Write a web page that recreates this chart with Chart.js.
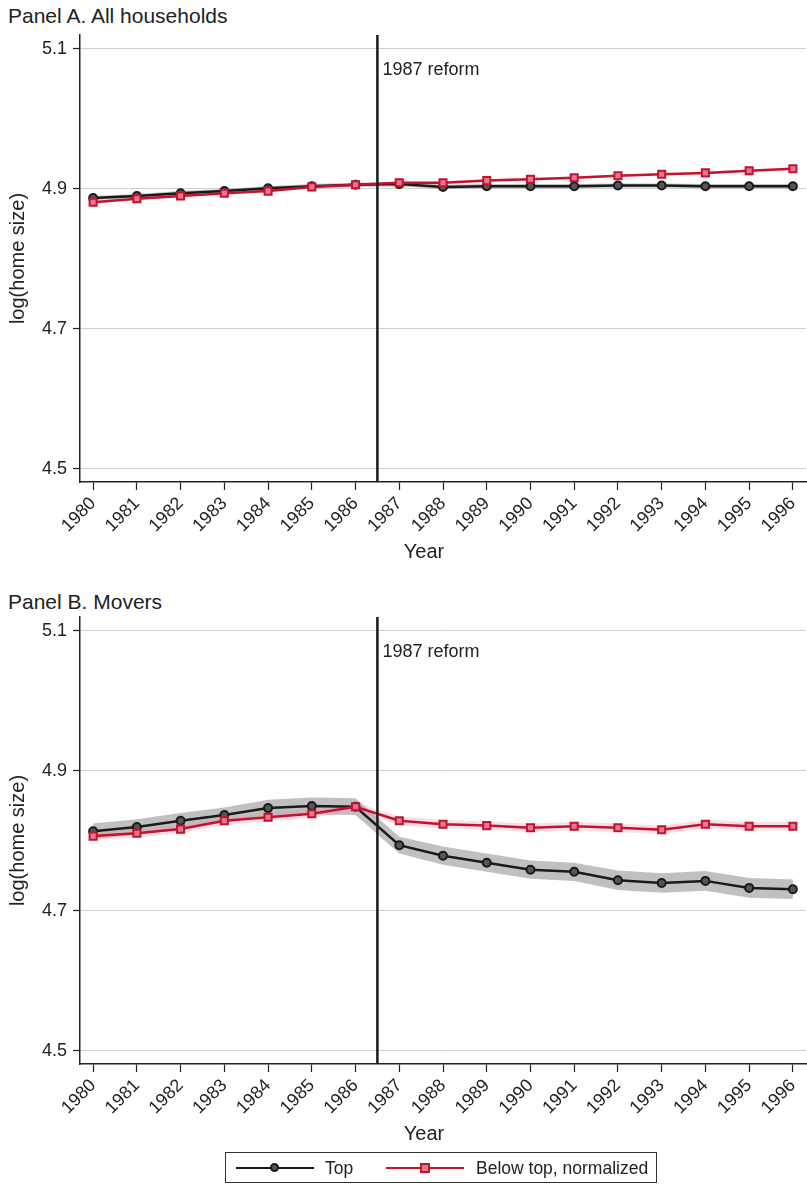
<!DOCTYPE html>
<html>
<head>
<meta charset="utf-8">
<script src="https://cdn.jsdelivr.net/npm/chart.js@4"></script>
<style>
  body { margin: 0; background: #fff; font-family: "Liberation Sans", Arial, sans-serif; color: #222; }
  #page { position: relative; width: 807px; height: 1184px; }
  .panelTitle { position: absolute; left: 8px; font-size: 21px; line-height: 24px; }
  .wrap { position: absolute; left: 0; width: 807px; height: 580px; }
  #legend { position: absolute; left: 225px; top: 1152px; width: 432px; height: 31px; border: 1px solid #333; box-sizing: border-box; font-size: 17.5px; }
  .lg-line { position: absolute; top: 14px; width: 78px; height: 2px; }
  .lg-text { position: absolute; top: 5px; }
  .lg-dot { position: absolute; top: 10px; width: 5px; height: 5px; border: 2px solid #1a1a1a; border-radius: 50%; background: #555; }
  .lg-sq { position: absolute; top: 10px; width: 6px; height: 6px; border: 2px solid #c4122f; background: #e07a8c; }
</style>
</head>
<body>
<div id="page">
  <div class="panelTitle" style="top:4px">Panel A. All households</div>
  <div class="wrap" style="top:0px"><canvas id="chartA" width="807" height="580"></canvas></div>
  <div class="panelTitle" style="top:590px">Panel B. Movers</div>
  <div class="wrap" style="top:582px"><canvas id="chartB" width="807" height="580"></canvas></div>
  <div id="legend">
    <div class="lg-line" style="left:10px;background:#1a1a1a"></div>
    <div class="lg-dot" style="left:44px"></div>
    <div class="lg-text" style="left:99px">Top</div>
    <div class="lg-line" style="left:160px;background:#c4122f"></div>
    <div class="lg-sq" style="left:194px"></div>
    <div class="lg-text" style="left:250px">Below top, normalized</div>
  </div>
</div>
<script>
// data
const years = [1980, 1981, 1982, 1983, 1984, 1985, 1986, 1987, 1988, 1989, 1990, 1991, 1992, 1993, 1994, 1995, 1996];
const yTicks = [4.5, 4.7, 4.9, 5.1];

// Panel A: all households
const topA   = [4.887, 4.890, 4.894, 4.897, 4.901, 4.904, 4.906, 4.907, 4.903, 4.904, 4.904, 4.904, 4.905, 4.905, 4.904, 4.904, 4.904];
const belowA = [4.881, 4.886, 4.890, 4.894, 4.897, 4.903, 4.906, 4.909, 4.909, 4.912, 4.914, 4.916, 4.919, 4.921, 4.923, 4.926, 4.929];
const topBandA   = [0.003, 0.003, 0.003, 0.003, 0.003, 0.003, 0.003, 0.003, 0.003, 0.003, 0.003, 0.003, 0.003, 0.003, 0.003, 0.003, 0.003];
const belowBandA = [0.002, 0.002, 0.002, 0.002, 0.002, 0.002, 0.002, 0.002, 0.002, 0.002, 0.002, 0.002, 0.002, 0.002, 0.002, 0.002, 0.002];

// Panel B: movers
const topB   = [4.814, 4.820, 4.829, 4.837, 4.847, 4.850, 4.849, 4.794, 4.779, 4.769, 4.759, 4.756, 4.744, 4.740, 4.743, 4.733, 4.731];
const belowB = [4.807, 4.811, 4.817, 4.829, 4.834, 4.839, 4.849, 4.829, 4.824, 4.822, 4.819, 4.821, 4.819, 4.816, 4.824, 4.821, 4.821];
const topBandB   = [0.011, 0.011, 0.011, 0.011, 0.012, 0.012, 0.012, 0.012, 0.013, 0.013, 0.013, 0.013, 0.014, 0.014, 0.014, 0.014, 0.014];
const belowBandB = [0.006, 0.006, 0.006, 0.006, 0.006, 0.006, 0.006, 0.006, 0.006, 0.006, 0.006, 0.006, 0.006, 0.006, 0.006, 0.006, 0.006];

const reformYear = 1986.5;
const reformLabel = "1987 reform";

const FONT = '"Liberation Sans", Arial, sans-serif';
const RED = '#c4122f';
const BLACK = '#1a1a1a';

function pts(vals, band, sign) {
    return years.map((yr, i) => ({ x: yr, y: vals[i] + sign * band[i] }));
}

// vertical reform line + "Year" title (a bit left of the plot centre, like the original)
const reformLine = {
    id: 'reformLine',
    afterDatasetsDraw(chart) {
        const ctx = chart.ctx;
        const area = chart.chartArea;
        const x = chart.scales.x.getPixelForValue(reformYear);
        ctx.save();
        ctx.strokeStyle = BLACK;
        ctx.lineWidth = 2.5;
        ctx.beginPath();
        ctx.moveTo(x, area.top);
        ctx.lineTo(x, area.bottom);
        ctx.stroke();
        ctx.fillStyle = '#222';
        ctx.font = '18px ' + FONT;
        ctx.textBaseline = 'middle';
        ctx.fillText(reformLabel, x + 5, area.top + 35);
        ctx.font = '20px ' + FONT;
        ctx.textAlign = 'center';
        ctx.fillText('Year', (area.left + area.right) / 2 - 19, area.bottom + 70);
        ctx.restore();
    }
};

function makeChart(id, topVals, belowVals, topBand, belowBand) {
    const ctx = document.getElementById(id).getContext('2d');
    return new Chart(ctx, {
        type: 'line',
        data: {
            datasets: [
                { data: pts(topVals, topBand, -1), borderWidth: 0, pointRadius: 0, fill: false, order: 4 },
                { data: pts(topVals, topBand, 1), borderWidth: 0, pointRadius: 0, fill: 0, backgroundColor: 'rgba(150,150,150,0.6)', order: 4 },
                { data: pts(belowVals, belowBand, -1), borderWidth: 0, pointRadius: 0, fill: false, order: 3 },
                { data: pts(belowVals, belowBand, 1), borderWidth: 0, pointRadius: 0, fill: 2, backgroundColor: 'rgba(230,150,170,0.3)', order: 3 },
                {
                    label: 'Top',
                    data: years.map((yr, i) => ({ x: yr, y: topVals[i] })),
                    borderColor: BLACK, borderWidth: 2.5,
                    pointStyle: 'circle', pointRadius: 4, pointBorderWidth: 2,
                    pointBorderColor: BLACK, pointBackgroundColor: '#555',
                    fill: false, order: 2
                },
                {
                    label: 'Below top, normalized',
                    data: years.map((yr, i) => ({ x: yr, y: belowVals[i] })),
                    borderColor: RED, borderWidth: 2.5,
                    pointStyle: 'rect', pointRadius: 5, pointBorderWidth: 2,
                    pointBorderColor: RED, pointBackgroundColor: '#e07a8c',
                    fill: false, order: 1
                }
            ]
        },
        options: {
            responsive: false,
            animation: false,
            layout: { autoPadding: false, padding: { top: 35, right: 1, left: 0, bottom: 0 } },
            plugins: { legend: { display: false }, tooltip: { enabled: false } },
            scales: {
                x: {
                    type: 'linear',
                    min: 1979.7,
                    max: 1996.3,
                    afterBuildTicks: s => { s.ticks = years.map(v => ({ value: v })); },
                    afterFit: s => { s.height = 98; s.paddingRight = 0; s.paddingLeft = 0; },
                    ticks: {
                        color: '#222', font: { family: FONT, size: 18 },
                        minRotation: 45, maxRotation: 45, padding: 3,
                        callback: v => String(v)
                    },
                    grid: { drawOnChartArea: false, tickLength: 8, tickColor: '#222', tickWidth: 1.2 },
                    border: { color: '#222', width: 1.5 },
                    title: { display: false }
                },
                y: {
                    min: 4.4814,
                    max: 5.12,
                    afterBuildTicks: s => { s.ticks = yTicks.map(v => ({ value: v })); },
                    afterFit: s => { s.width = 80; },
                    ticks: {
                        color: '#222', font: { family: FONT, size: 18 }, padding: 6,
                        callback: v => v.toFixed(1)
                    },
                    grid: { color: '#d0d0d0', lineWidth: 1, tickLength: 7, tickColor: '#222', tickWidth: 1.2 },
                    border: { color: '#222', width: 1.5 },
                    title: { display: true, text: 'log(home size)', color: '#222', font: { family: FONT, size: 20 }, padding: { top: 6, bottom: 0 } }
                }
            }
        },
        plugins: [reformLine]
    });
}

makeChart('chartA', topA, belowA, topBandA, belowBandA);
makeChart('chartB', topB, belowB, topBandB, belowBandB);
</script>
</body>
</html>
